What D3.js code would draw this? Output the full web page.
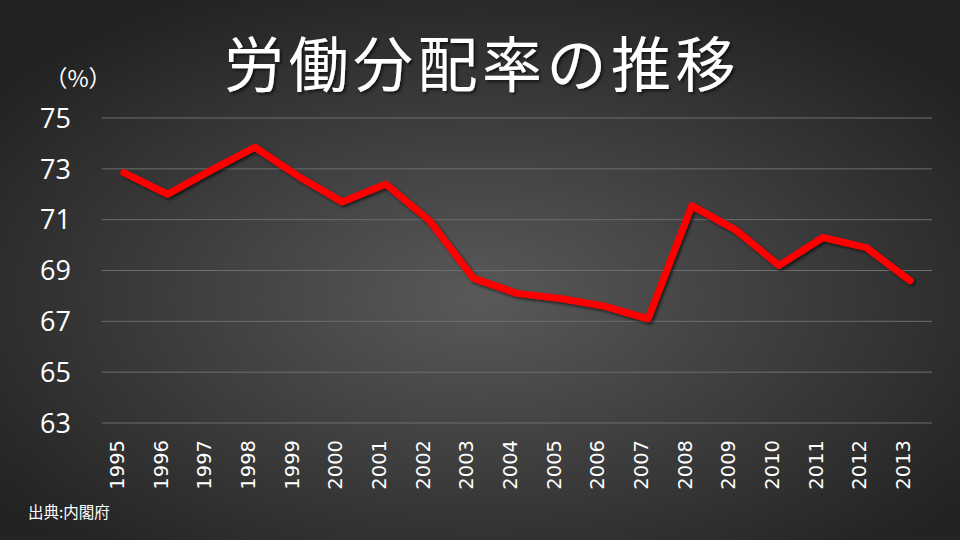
<!DOCTYPE html>
<html><head><meta charset="utf-8">
<script src="https://cdn.jsdelivr.net/npm/d3@7"></script>
<style>html,body{margin:0;padding:0;background:#333;}svg{display:block;}</style>
</head><body>
<script>
const years = ["1995","1996","1997","1998","1999","2000","2001","2002","2003","2004","2005","2006","2007","2008","2009","2010","2011","2012","2013"];
const laborShare = [72.85,72.0,72.95,73.85,72.7,71.7,72.4,70.95,68.7,68.1,67.9,67.6,67.1,71.55,70.6,69.2,70.3,69.9,68.6];
const yTicks = [63,65,67,69,71,73,75];
const titleText = "労働分配率の推移";
const unitText = "（%）";
const sourceText = "出典:内閣府";

const W = 960, H = 540;
const margin = {left:102, right:28, top:118, bottom:117};
const svg = d3.select("body").append("svg").attr("width",W).attr("height",H);
const defs = svg.append("defs");
const rg = defs.append("radialGradient").attr("id","bg").attr("cx","50%").attr("cy","55%").attr("r","62%");
rg.append("stop").attr("offset","0%").attr("stop-color","#595959");
rg.append("stop").attr("offset","100%").attr("stop-color","#232323");
const sh = defs.append("filter").attr("id","shadow").attr("x","-10%").attr("y","-10%").attr("width","120%").attr("height","130%");
sh.append("feDropShadow").attr("dx",2).attr("dy",2).attr("stdDeviation",1.5).attr("flood-color","#000").attr("flood-opacity",0.6);

svg.append("rect").attr("width",W).attr("height",H).attr("fill","url(#bg)");

const x = d3.scaleBand().domain(years).range([margin.left, W-margin.right]);
const y = d3.scaleLinear().domain([63,75]).range([H-margin.bottom, margin.top]);

// gridlines
svg.append("g").selectAll("line").data(yTicks).join("line")
  .attr("x1",margin.left).attr("x2",W-margin.right)
  .attr("y1",d=>y(d)).attr("y2",d=>y(d))
  .attr("stroke","#6e6e6e").attr("stroke-width",1);

// y labels
svg.append("g").selectAll("text").data(yTicks).join("text")
  .attr("x",71).attr("y",d=>y(d)).attr("dy","0.36em")
  .attr("text-anchor","end").attr("fill","#fff")
  .attr("font-family","'Open Sans','Noto Sans',sans-serif").attr("font-size",27)
  .text(d=>d);

// x labels
svg.append("g").selectAll("text").data(years).join("text")
  .attr("transform",d=>`translate(${x(d)+x.bandwidth()/2},440) rotate(-90)`)
  .attr("text-anchor","end").attr("fill","#fff")
  .attr("font-family","'DejaVu Sans',sans-serif").attr("font-size",19.5)
  .text(d=>d);

// line
const line = d3.line().x((d,i)=>x(years[i])+x.bandwidth()/2).y(d=>y(d));
svg.append("path").datum(laborShare).attr("d",line)
  .attr("fill","none").attr("stroke","#ff0000").attr("stroke-width",7)
  .attr("stroke-linejoin","round").attr("stroke-linecap","round")
  .attr("filter","url(#shadow)");

// title
svg.append("text").attr("x",482).attr("y",87).attr("text-anchor","middle")
  .attr("fill","#fff").attr("font-family","'Noto Sans CJK JP',sans-serif")
  .attr("font-size",60).attr("letter-spacing",4.5).attr("filter","url(#shadow)").text(titleText);

svg.append("text").attr("x",78).attr("y",87).attr("text-anchor","middle")
  .attr("fill","#fff").attr("font-family","'Noto Sans CJK JP',sans-serif")
  .attr("font-size",23).text(unitText);

svg.append("text").attr("x",28).attr("y",518)
  .attr("fill","#fff").attr("font-family","'Noto Sans CJK JP',sans-serif")
  .attr("font-size",15.5).text(sourceText);
</script>
</body></html>
